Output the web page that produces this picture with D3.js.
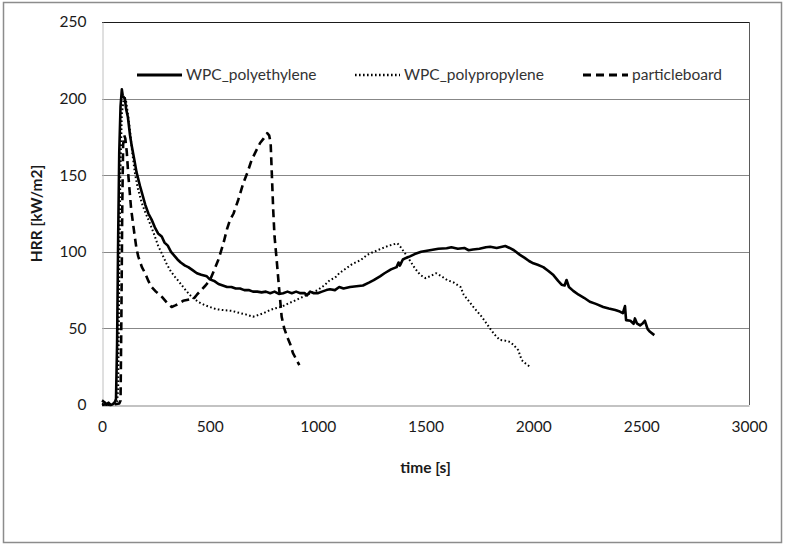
<!DOCTYPE html>
<html>
<head>
<meta charset="utf-8">
<script src="https://cdn.jsdelivr.net/npm/d3@7"></script>
<style>
  html, body { margin: 0; padding: 0; background: #fff; }
  svg { display: block; font-family: Lato, "Open Sans", sans-serif; }
</style>
</head>
<body>
<svg id="chart" width="785" height="544"></svg>
<script>
// Heat release rate curves: [time s, HRR kW/m2]
var polyethylene = [
  [0, 3], [10, 2], [20, 0.5], [30, 1.5], [40, 0], [50, 0.5], [60, 2], [65, 4], [70, 40], [75, 110],
  [80, 165], [86, 195], [92, 206], [96, 202], [100, 201], [106, 200], [112, 193], [120, 188], [130, 176],
  [138, 169], [150, 160], [160, 152], [176, 143], [190, 136], [200, 131], [215, 125], [230, 121],
  [245, 116], [260, 112], [277, 110], [290, 106], [305, 104], [320, 100], [338, 97], [350, 95],
  [365, 93], [385, 91], [400, 90], [420, 88], [440, 86], [460, 85], [486, 84], [500, 82], [520, 81],
  [540, 79], [560, 78], [580, 77], [600, 77], [620, 76], [640, 76], [660, 75], [680, 75], [700, 74],
  [720, 74], [740, 73.5], [760, 74], [780, 73], [800, 74], [820, 72.5], [840, 73], [860, 74],
  [880, 73], [900, 74], [920, 73], [940, 73], [950, 71.5], [965, 74], [980, 73], [1000, 73],
  [1020, 74], [1040, 75], [1057, 75.5], [1080, 75], [1100, 77], [1120, 76], [1150, 77], [1180, 77.5],
  [1210, 78], [1240, 80], [1260, 81.5], [1289, 84], [1310, 86], [1340, 88.5], [1366, 90], [1375, 93],
  [1381, 91], [1395, 95], [1410, 96], [1428, 97], [1450, 98.5], [1480, 100], [1520, 101], [1560, 102],
  [1598, 102.3], [1620, 103], [1650, 102], [1680, 102.5], [1700, 101], [1720, 101.5], [1750, 102],
  [1780, 103], [1800, 103.3], [1830, 102.5], [1870, 103.8], [1890, 102.5], [1910, 101], [1938, 98],
  [1960, 96], [1980, 94], [2000, 92.5], [2020, 91.5], [2046, 90], [2070, 87.5], [2093, 84.8],
  [2115, 81], [2131, 78.5], [2145, 78], [2154, 81.6], [2165, 77], [2185, 74.5], [2210, 72],
  [2235, 70], [2262, 67.4], [2290, 66], [2324, 64], [2350, 63], [2380, 62], [2401, 61], [2415, 60],
  [2425, 64.6], [2430, 55.4], [2450, 55], [2465, 53], [2471, 56.5], [2480, 53.3], [2495, 52],
  [2505, 53], [2517, 55], [2530, 49.5], [2541, 47.8], [2561, 45.6]
];

var polypropylene = [
  [0, 1], [20, 0], [40, 0.5], [60, 1], [70, 2], [75, 10], [80, 80], [85, 150], [92, 190], [100, 199],
  [106, 200.5], [112, 198], [120, 190], [130, 179], [140, 165], [153, 151], [165, 142], [184, 132],
  [200, 126], [222, 118.6], [240, 112], [260, 104], [277, 99], [300, 92], [320, 87], [338, 83.7],
  [360, 80], [382, 76], [400, 73], [420, 70], [450, 67], [480, 65], [500, 64], [530, 62.5], [560, 62],
  [600, 61.5], [640, 60], [670, 59], [700, 57.6], [720, 58.5], [750, 60], [780, 62], [800, 63],
  [830, 64], [860, 66], [900, 68.5], [930, 70.5], [960, 72.5], [1000, 75], [1030, 78], [1057, 81.6],
  [1080, 83], [1100, 86], [1130, 89], [1160, 92], [1200, 94.6], [1230, 98], [1260, 100], [1300, 102.3],
  [1330, 104], [1355, 105], [1370, 105.5], [1385, 103], [1400, 100], [1420, 96], [1450, 89.4],
  [1475, 85], [1500, 82.8], [1520, 84], [1550, 86], [1575, 84], [1600, 81.6], [1630, 80], [1663, 77],
  [1677, 72], [1700, 68], [1722, 64], [1761, 57.6], [1799, 50], [1820, 46], [1845, 42.4], [1870, 42],
  [1892, 41.2], [1910, 39], [1930, 35.8], [1946, 29.3], [1965, 27], [1984, 25]
];

var particleboard = [
  [0, 0], [20, 0.5], [40, 0], [60, 0.5], [80, 1], [86, 3], [90, 60], [94, 130], [98, 170], [103, 176],
  [108, 174], [115, 165], [122, 150], [128, 140], [135, 128], [150, 112], [160, 102], [168, 97],
  [185, 90], [200, 86], [215, 81], [230, 77], [250, 74], [277, 70.7], [300, 67], [323, 64], [340, 65],
  [355, 66], [376, 68], [393, 68.5], [410, 69], [423, 69], [440, 72], [460, 75], [480, 78], [501, 81.6],
  [520, 88], [540, 95], [563, 105.5], [580, 115], [593, 120.5], [610, 125], [632, 134], [655, 144.8],
  [675, 152], [694, 160], [715, 166], [733, 171], [750, 174], [766, 177.4], [775, 176], [782, 171],
  [794, 127], [800, 110], [810, 94.6], [820, 78], [833, 57.6], [845, 50], [860, 44], [872, 40],
  [885, 34], [900, 30], [915, 26]
];

var seriesNames = ['WPC_polyethylene', 'WPC_polypropylene', 'particleboard'];
var xTicks = [0, 500, 1000, 1500, 2000, 2500, 3000];
var yTicks = [0, 50, 100, 150, 200, 250];

var svg = d3.select('#chart');
var W = 785, H = 544;
var plot = { left: 102, right: 749, top: 22, bottom: 405 };
var FONT = 15.5;

// outer chart frame
svg.append('rect')
  .attr('x', 3.5).attr('y', 2.5)
  .attr('width', W - 7).attr('height', H - 4)
  .attr('fill', '#fff')
  .attr('stroke', '#8c8c8c')
  .attr('stroke-width', 1.5);

var x = d3.scaleLinear().domain([0, 3000]).range([plot.left, plot.right]);
var y = d3.scaleLinear().domain([0, 250]).range([plot.bottom, plot.top]);

// horizontal gridlines
svg.append('g')
  .selectAll('line')
  .data(yTicks.filter(function (d) { return d > 0 && d < 250; }))
  .join('line')
  .attr('x1', plot.left).attr('x2', plot.right)
  .attr('y1', function (d) { return Math.round(y(d)) + 0.5; })
  .attr('y2', function (d) { return Math.round(y(d)) + 0.5; })
  .attr('stroke', '#878787')
  .attr('stroke-width', 1);

// plot area edges
var edge = svg.append('g').attr('stroke-width', 1);
edge.append('line').attr('x1', plot.left).attr('x2', plot.right)
  .attr('y1', Math.round(y(250)) + 0.5).attr('y2', Math.round(y(250)) + 0.5).attr('stroke', '#1a1a1a');
edge.append('line').attr('x1', plot.right + 0.5).attr('x2', plot.right + 0.5)
  .attr('y1', y(250)).attr('y2', y(0)).attr('stroke', '#5a5a5a');

// axes
var xAxis = svg.append('g')
  .attr('transform', 'translate(0,' + (Math.round(y(0)) + 0.5) + ')')
  .call(d3.axisBottom(x).tickValues(xTicks).tickFormat(d3.format('d')).tickSize(0).tickPadding(15));
xAxis.select('.domain').attr('stroke', '#878787');
xAxis.selectAll('text').attr('font-size', FONT).attr('fill', '#1a1a1a')
  .attr('font-family', 'Lato, sans-serif');

var yAxis = svg.append('g')
  .attr('transform', 'translate(' + (plot.left + 0.5) + ',0)')
  .call(d3.axisLeft(y).tickValues(yTicks).tickFormat(d3.format('d')).tickSize(0).tickPadding(16));
yAxis.select('.domain').attr('stroke', '#c0c0c0');
yAxis.selectAll('text').attr('font-size', FONT).attr('fill', '#1a1a1a')
  .attr('font-family', 'Lato, sans-serif');

// axis titles
svg.append('text')
  .attr('x', (plot.left + plot.right) / 2).attr('y', 473)
  .attr('text-anchor', 'middle')
  .attr('font-size', FONT).attr('font-weight', 'bold').attr('fill', '#1a1a1a')
  .text('time [s]');

svg.append('text')
  .attr('transform', 'translate(42,' + ((plot.top + plot.bottom) / 2) + ') rotate(-90)')
  .attr('text-anchor', 'middle')
  .attr('font-size', FONT).attr('font-weight', 'bold').attr('fill', '#1a1a1a')
  .text('HRR [kW/m2]');

// line styles per series
var STYLES = [
  { width: 2.6, dash: null },
  { width: 2, dash: '1.6,2.4' },
  { width: 2.6, dash: '8,5' }
];
var allSeries = [polyethylene, polypropylene, particleboard];

var line = d3.line()
  .x(function (d) { return x(d[0]); })
  .y(function (d) { return y(d[1]); });

svg.append('g')
  .selectAll('path')
  .data(allSeries)
  .join('path')
  .attr('d', line)
  .attr('fill', 'none')
  .attr('stroke', '#000')
  .attr('stroke-width', function (d, i) { return STYLES[i].width; })
  .attr('stroke-dasharray', function (d, i) { return STYLES[i].dash; })
  .attr('stroke-linejoin', 'round');

// legend
var legendX = [137, 355, 583];
var legend = svg.append('g').selectAll('g')
  .data(seriesNames)
  .join('g')
  .attr('transform', function (d, i) { return 'translate(' + legendX[i] + ',75)'; });

legend.append('line')
  .attr('x1', 0).attr('x2', 45).attr('y1', 0).attr('y2', 0)
  .attr('stroke', '#000')
  .attr('stroke-width', function (d, i) { return STYLES[i].width + 0.4; })
  .attr('stroke-dasharray', function (d, i) { return STYLES[i].dash; });

legend.append('text')
  .attr('x', 49).attr('y', 5)
  .attr('font-size', FONT).attr('fill', '#333')
  .text(function (d) { return d; });
</script>
</body>
</html>
